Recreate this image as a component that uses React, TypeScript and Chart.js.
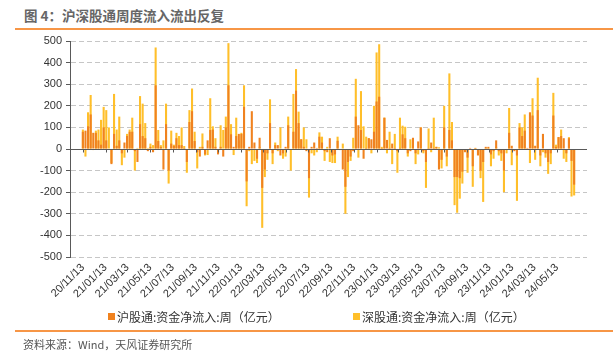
import React, { useEffect, useRef } from "react";
import { Chart, registerables } from "chart.js";

Chart.register(...registerables);

// Weekly net inflow (亿元), weeks starting 2020/11/13
const shFlow: number[] = [
  80, 85, 105, 160, 75, 75, 40, 20, 100, 40,
  0, -70, 70, 15, 40, -20, 30, 60, 80, 80,
  -10, -60, 115, 60, 50, -10, 10, -15, 295, 37,
  10, -95, 115, -100, 25, 15, 50, 18, 18, 5,
  -60, 125, 175, 37, -15, -35, 10, -25, 40, 88,
  90, 10, -25, 10, -35, 100, 295, 68, 10, 60,
  70, 70, 195, -150, 10, 175, 30, -45, 52, -180,
  -95, -20, 120, -20, 18, 18, -30, -20, 10, 110,
  0, 80, 270, 120, 45, 10, -10, -135, 10, 30,
  5, 57, 30, -10, -15, 50, -30, -25, 38, 0,
  -95, -175, -60, -35, -10, 150, 110, 88, -45, 5,
  50, 45, 80, 220, 242, 5, 145, 42, 5, 25,
  5, -10, 5, 68, 50, -20, -10, 52, -20, 35,
  100, -10, -60, 5, 30, 5, 10, -95, -50, 100,
  -35, 88, 40, -130, -130, -135, -105, -15, -40, 5,
  -80, 5, -30, -100, -60, 10, 10, -25, -10, 40,
  -10, -20, -100, 0, 75, 15, -10, -30, 100, 60,
  85, 5, 170, 155, 15, 180, -30, 70, -20, -60,
  -20, 155, 10, 55, 60, 50, -20, 50, -55, -165,
];

const szFlow: number[] = [
  90, -35, 170, 250, -5, 85, 90, 135, 195, 180,
  100, -65, 255, 90, 150, -75, -40, 70, 90, 145,
  -100, 5, 245, 210, 120, 5, 25, 18, 470, 88,
  18, 40, 210, -160, 85, 20, 75, 60, 100, 14,
  -110, 180, 280, 80, -90, 10, 72, -30, -28, 235,
  105, 50, -15, 110, 88, 150, 490, 115, -28, 145,
  40, 75, 295, -265, -10, -70, -55, -65, 10, -365,
  -130, -50, 230, -70, 30, -10, 100, -45, -35, 150,
  -100, 255, 370, 173, 45, 100, 45, -225, -20, -30,
  -15, 77, 57, -55, 10, -60, -65, -65, 57, -5,
  25, -300, -130, -55, 52, 325, -40, 268, 105, 57,
  50, -20, 200, 447, 485, 10, 145, -20, 80, -70,
  70, -110, 145, 108, 103, -35, 45, 35, -70, -25,
  100, -20, -180, 95, -15, 145, 10, 8, -90, 200,
  -80, 350, 125, -260, -295, -230, -160, 0, -110, 0,
  -175, 5, -5, -135, -245, 5, 5, -80, -45, 10,
  -30, -55, -200, -20, 190, -75, -5, -240, 120, 100,
  160, 0, -65, 235, -50, 330, -80, -15, -40, -115,
  -70, 260, 20, 55, 90, -45, -60, 55, -220, -215,
];

const xTickLabels: string[] = [
  "20/11/13", "21/01/13", "21/03/13", "21/05/13", "21/07/13", "21/09/13",
  "21/11/13", "22/01/13", "22/03/13", "22/05/13", "22/07/13", "22/09/13",
  "22/11/13", "23/01/13", "23/03/13", "23/05/13", "23/07/13", "23/09/13",
  "23/11/13", "24/01/13", "24/03/13", "24/05/13",
];

const yTicks = { min: -500, max: 500, step: 100 };

const seriesNames = ["沪股通:资金净流入:周（亿元）", "深股通:资金净流入:周（亿元）"];
const ORANGE = "#F0821F";
const YELLOW = "#FFBF2A";

const START = Date.UTC(2020, 10, 13);
const dayOfLabel = (lbl: string) => {
  const [yy, mm, dd] = lbl.split("/").map(Number);
  return Math.round((Date.UTC(2000 + yy, mm - 1, dd) - START) / 86400000);
};

const zeroLine = {
  id: "zeroLine",
  afterDatasetsDraw(chart: any) {
    const { ctx, chartArea, scales } = chart;
    const y0 = scales.y.getPixelForValue(0);
    ctx.save();
    ctx.strokeStyle = "#595959";
    ctx.lineWidth = 1;
    ctx.beginPath();
    ctx.moveTo(chartArea.left, Math.round(y0) + 0.5);
    ctx.lineTo(chartArea.right, Math.round(y0) + 0.5);
    for (const t of scales.x.ticks) {
      const x = Math.round(scales.x.getPixelForValue(t.value)) + 0.5;
      ctx.moveTo(x, Math.round(y0) + 0.5);
      ctx.lineTo(x, Math.round(y0) + 3.5);
    }
    ctx.stroke();
    ctx.restore();
  },
};

export default function App() {
  const ref = useRef<HTMLCanvasElement>(null);
  useEffect(() => {
    if (!ref.current) return;
    const toPts = (arr: number[]) => arr.map((v, i) => ({ x: i * 7, y: v }));
    const chart = new Chart(ref.current, {
      type: "bar",
      data: {
        datasets: [
          {
            label: seriesNames[0],
            data: toPts(shFlow),
            backgroundColor: ORANGE,
            grouped: false,
            order: 1,
            barPercentage: 0.8,
            categoryPercentage: 1,
          } as any,
          {
            label: seriesNames[1],
            data: toPts(szFlow),
            backgroundColor: YELLOW,
            grouped: false,
            order: 2,
            barPercentage: 0.8,
            categoryPercentage: 1,
          } as any,
        ],
      },
      options: {
        animation: false,
        responsive: true,
        maintainAspectRatio: false,
        layout: { padding: { top: 11, right: 29, left: 0, bottom: 0 } },
        plugins: { legend: { display: false }, tooltip: { enabled: false } },
        scales: {
          x: {
            type: "linear",
            min: -3,
            max: 1326,
            afterBuildTicks: (scale: any) => {
              scale.ticks = xTickLabels.map((l) => ({ value: dayOfLabel(l) }));
            },
            afterFit: (scale: any) => {
              scale.height = 53;
            },
            ticks: {
              autoSkip: false,
              maxRotation: 45,
              minRotation: 45,
              padding: 4,
              color: "#333",
              font: { size: 11, family: "Liberation Sans" },
              callback: (_v: any, i: number) => xTickLabels[i],
            },
            grid: { display: false, drawTicks: false },
            border: { display: false },
          },
          y: {
            min: yTicks.min,
            max: yTicks.max,
            afterFit: (scale: any) => {
              scale.width = 70;
            },
            ticks: {
              stepSize: yTicks.step,
              padding: 4,
              color: "#333",
              font: { size: 11, family: "Liberation Sans" },
            },
            grid: { color: "#C6C6C6", tickColor: "#595959", tickLength: 4, lineWidth: 1 },
            border: {
              display: true,
              color: "#595959",
              width: 1,
              dash: (ctx: any) => (ctx.type === "tick" ? [5, 3] : []),
            },
          },
        },
      } as any,
      plugins: [zeroLine],
    });
    return () => chart.destroy();
  }, []);

  const cjk = "'Noto Sans CJK SC', 'Noto Sans', sans-serif";
  return (
    <div style={{ position: "fixed", left: 0, top: 0, width: 616, height: 354, background: "#fff", fontFamily: cjk, overflow: "hidden" }}>
      <div style={{ position: "absolute", left: 24, top: 5, fontSize: 13.5, fontWeight: "bold", color: "#666", lineHeight: "20px", whiteSpace: "nowrap" }}>
        图 4：沪深股通周度流入流出反复
      </div>
      <div style={{ position: "absolute", left: 15, top: 28, width: 598, height: 2, background: "#F79646" }} />
      <div style={{ position: "absolute", left: 0, top: 30, width: 616, height: 280 }}>
        <canvas ref={ref} />
      </div>
      {[0, 1].map((i) => (
        <div key={i} style={{ position: "absolute", left: i === 0 ? 108 : 353, top: 307, height: 18, display: "flex", alignItems: "center", fontSize: 12, color: "#333", whiteSpace: "nowrap" }}>
          <span style={{ display: "inline-block", width: 7, height: 7, background: i === 0 ? ORANGE : YELLOW, marginRight: 2 }} />
          {seriesNames[i]}
        </div>
      ))}
      <div style={{ position: "absolute", left: 15, top: 330, width: 598, height: 2, background: "#F79646" }} />
      <div style={{ position: "absolute", left: 23, top: 336, fontSize: 11, color: "#555", lineHeight: "16px", whiteSpace: "nowrap" }}>
        资料来源：Wind，天风证券研究所
      </div>
    </div>
  );
}
